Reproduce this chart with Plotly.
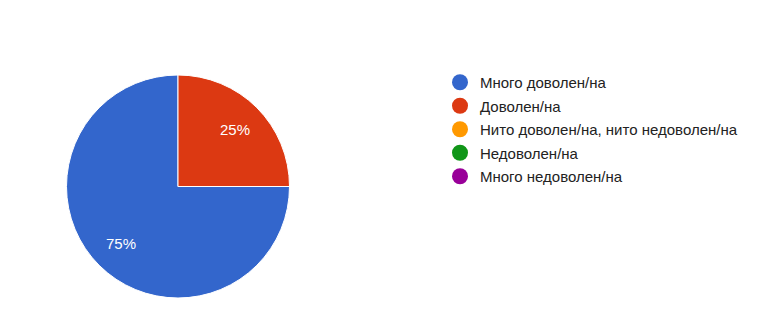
import math
import plotly.graph_objects as go

categories = ["Много доволен/на", "Доволен/на", "Нито доволен/на, нито недоволен/на",
              "Недоволен/на", "Много недоволен/на"]
values = [75, 25, 0, 0, 0]
colors = ["#3366CC", "#DC3912", "#FF9900", "#109618", "#990099"]

W, H = 773, 322
dom_x = [66 / W, 290 / W]
dom_y = [(H - 298) / H, (H - 75) / H]
fig = go.Figure()
fig.add_trace(go.Pie(
    labels=categories, values=values, sort=False, direction="clockwise", rotation=90,
    marker=dict(colors=colors, line=dict(color="white", width=1)),
    textinfo="none", domain=dict(x=dom_x, y=dom_y),
    showlegend=False, hoverinfo="label+percent",
))

# percentage labels placed along each slice's bisector
total = sum(values)
cx = (dom_x[0] + dom_x[1]) / 2 * W
cy = (1 - (dom_y[0] + dom_y[1]) / 2) * H
R = min((dom_x[1] - dom_x[0]) * W, (dom_y[1] - dom_y[0]) * H) / 2
start = 90.0
for v in values:
    if v <= 0:
        continue
    sweep = v / total * 360
    mid = math.radians(start + sweep / 2)
    px = cx + 0.72 * R * math.sin(mid)
    py = cy - 0.72 * R * math.cos(mid)
    fig.add_annotation(x=px / W, y=1 - py / H, xref="paper", yref="paper",
                       xanchor="center", yanchor="middle",
                       text=f"{round(v / total * 100)}%", showarrow=False,
                       font=dict(color="white", size=15, family="Liberation Sans, Arial"))
    start += sweep

for i, (c, col) in enumerate(zip(categories, colors)):
    fig.add_trace(go.Scatter(
        x=[None], y=[None], mode="markers", name=c, legendgroup=f"g{i}",
        marker=dict(symbol="circle", size=16, color=col),
    ))
fig.update_layout(
    width=W, height=H, margin=dict(l=0, r=0, t=0, b=0),
    paper_bgcolor="white", plot_bgcolor="white",
    xaxis=dict(visible=False), yaxis=dict(visible=False),
    legend=dict(x=440 / W, y=1 - 66 / H, xanchor="left", yanchor="top",
                font=dict(family="Liberation Sans, Arial", size=15, color="#222222"),
                tracegroupgap=1, itemwidth=30, bgcolor="rgba(0,0,0,0)"),
)
fig.write_html("out.html")
